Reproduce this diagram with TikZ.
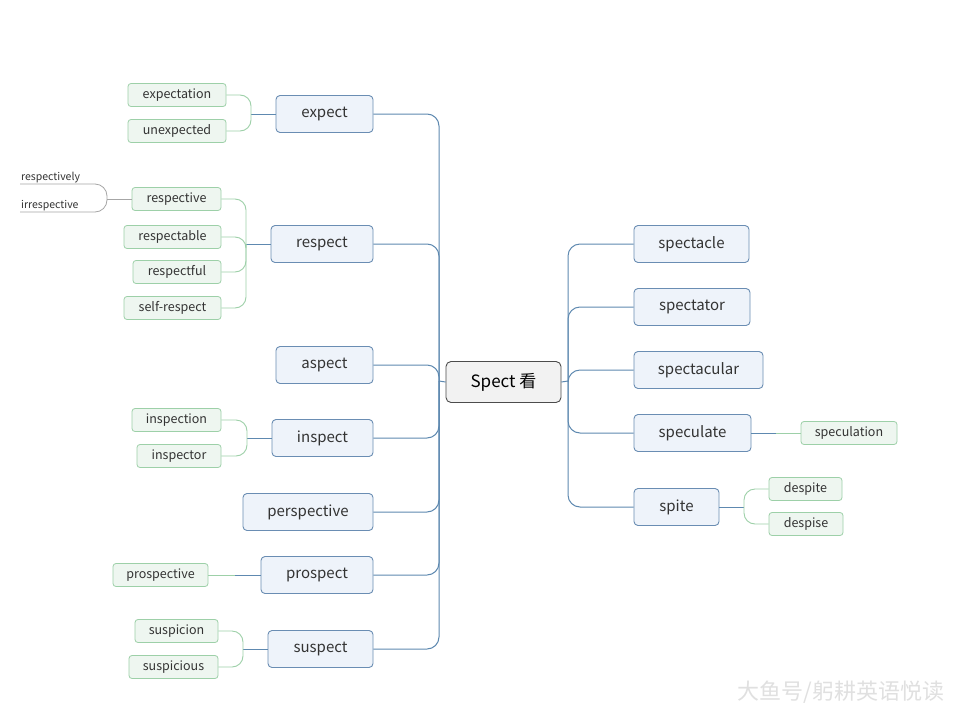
\documentclass[tikz,border=0pt]{standalone}
\usepackage{fontspec}
\setmainfont{Noto Sans CJK SC}
\begin{document}
\begin{tikzpicture}[x=1pt,y=-1pt,
  blu/.style={draw=blueB,fill=blueF,rounded corners=4pt,line width=0.9pt,inner sep=0pt,minimum height=37pt,font=\fontsize{15}{17}\selectfont,text=black!80},
  grn/.style={draw=greenB,fill=greenF,rounded corners=3pt,line width=0.8pt,inner sep=0pt,minimum height=23pt,font=\fontsize{12.5}{14}\selectfont,text=black!80},
  bl/.style={draw=blueL,line width=1pt,rounded corners=12pt},
  gl/.style={draw=greenB,line width=0.9pt,rounded corners=11pt},
  gy/.style={draw=gray!70,line width=0.8pt,rounded corners=12pt}]
\definecolor{blueB}{HTML}{6A8DB3}
\definecolor{blueF}{HTML}{EEF3FA}
\definecolor{blueL}{HTML}{5E89B0}
\definecolor{greenB}{HTML}{9DD0A8}
\definecolor{greenF}{HTML}{EEF6F0}
\useasboundingbox (0,0) rectangle (960,720);
\fill[white] (0,0) rectangle (960,720);
% center
\node[draw=black!70,fill=black!5,rounded corners=5pt,line width=0.9pt,minimum width=115pt,minimum height=41pt,inner sep=0pt,font=\fontsize{17}{19}\selectfont] (c) at (503.5,382) {Spect 看};
\coordinate (ls) at (439,381);
\coordinate (rs) at (568,381);
% left nodes
\node[blu,minimum width=97pt] (expect) at (324.5,114) {expect};
\node[blu,minimum width=102pt] (respect) at (322,244) {respect};
\node[blu,minimum width=97pt] (aspect) at (324.5,365) {aspect};
\node[blu,minimum width=101pt] (inspect) at (322.5,438) {inspect};
\node[blu,minimum width=130pt] (perspective) at (308,512) {perspective};
\node[blu,minimum width=112pt] (prospect) at (317,575) {prospect};
\node[blu,minimum width=105pt] (suspect) at (320.5,649) {suspect};
% right nodes
\node[blu,minimum width=115pt] (spectacle) at (691.5,244) {spectacle};
\node[blu,minimum width=116pt] (spectator) at (692,307) {spectator};
\node[blu,minimum width=129pt] (spectacular) at (698.5,370) {spectacular};
\node[blu,minimum width=117pt] (speculate) at (692.5,433) {speculate};
\node[blu,minimum width=85pt] (spite) at (676.5,507) {spite};
% spines
\draw[blueL,line width=1pt] (c.west) -- (ls);
\draw[blueL,line width=1pt] (c.east) -- (rs);
\foreach \n in {expect,respect,aspect,inspect,perspective,prospect,suspect}
  \draw[bl] (\n.east) -| (ls);
\foreach \n in {spectacle,spectator,spectacular,speculate,spite}
  \draw[bl] (\n.west) -| (rs);
% leaves
\node[grn,minimum width=98pt] (expectation) at (177,95) {expectation};
\node[grn,minimum width=98pt] (unexpected) at (177,131) {unexpected};
\node[grn,minimum width=89pt] (respective) at (176.5,199) {respective};
\node[grn,minimum width=97pt] (respectable) at (172.5,237) {respectable};
\node[grn,minimum width=88pt] (respectful) at (177,272) {respectful};
\node[grn,minimum width=97pt] (selfrespect) at (172.5,308) {self-respect};
\node[grn,minimum width=89pt] (inspection) at (176.5,420) {inspection};
\node[grn,minimum width=84pt] (inspector) at (179,456) {inspector};
\node[grn,minimum width=95pt] (prospective) at (160.5,575) {prospective};
\node[grn,minimum width=83pt] (suspicion) at (176.5,631) {suspicion};
\node[grn,minimum width=89pt] (suspicious) at (173.5,667) {suspicious};
\node[grn,minimum width=96pt] (speculation) at (849,433) {speculation};
\node[grn,minimum width=73pt] (despite) at (805.5,489) {despite};
\node[grn,minimum width=74pt] (despise) at (806,524) {despise};
% leaf connectors
\coordinate (j1) at (251,114);
\draw[blueL,line width=1pt] (expect.west) -- (j1);
\foreach \n in {expectation,unexpected} \draw[gl] (j1) |- (\n.east);
\coordinate (j2) at (246,244);
\draw[blueL,line width=1pt] (respect.west) -- (j2);
\foreach \n in {respective,respectable,respectful,selfrespect} \draw[gl] (j2) |- (\n.east);
\coordinate (j3) at (247,438);
\draw[blueL,line width=1pt] (inspect.west) -- (j3);
\foreach \n in {inspection,inspector} \draw[gl] (j3) |- (\n.east);
\coordinate (j4) at (243,649);
\draw[blueL,line width=1pt] (suspect.west) -- (j4);
\foreach \n in {suspicion,suspicious} \draw[gl] (j4) |- (\n.east);
\coordinate (j5) at (235,575);
\draw[blueL,line width=1pt] (prospect.west) -- (j5);
\draw[gl] (j5) -- (prospective.east);
\coordinate (j6) at (776,433);
\draw[blueL,line width=1pt] (speculate.east) -- (j6);
\draw[gl] (j6) -- (speculation.west);
\coordinate (j7) at (744,507);
\draw[blueL,line width=1pt] (spite.east) -- (j7);
\foreach \n in {despite,despise} \draw[gl] (j7) |- (\n.west);
% sub-sub
\node[anchor=south west,inner sep=1pt,font=\fontsize{10.5}{12}\selectfont,text=black!80] (respectively) at (20,184) {respectively};
\node[anchor=south west,inner sep=1pt,font=\fontsize{10.5}{12}\selectfont,text=black!80] (irrespective) at (20,212) {irrespective};
\coordinate (j8) at (107,199);
\draw[gy] (respective.west) -- (j8);
\draw[gy] (j8) |- (respectively.south west);
\draw[gy] (j8) |- (irrespective.south west);
% watermark
\node[anchor=east,text=black!12,font=\fontsize{22}{24}\selectfont] (wm) at (948,692) {大鱼号/躬耕英语悦读};
\end{tikzpicture}
\end{document}
